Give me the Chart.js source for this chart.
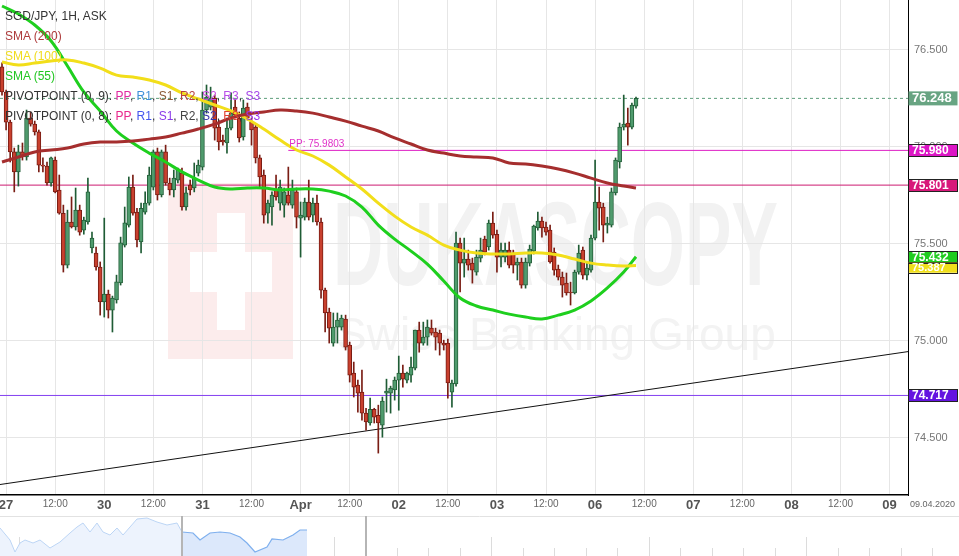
<!DOCTYPE html>
<html>
<head>
<meta charset="utf-8">
<script src="https://cdn.jsdelivr.net/npm/chart.js@4.4.1/dist/chart.umd.min.js"></script>
<style>
body{margin:0;background:#fff;width:959px;height:556px;overflow:hidden;position:relative;font-family:"Liberation Sans",Arial,sans-serif;}
#main{position:absolute;left:0;top:0;}
#nav{position:absolute;left:0;top:516px;}
#legend{position:absolute;left:5px;top:6px;font-size:12px;line-height:20px;color:#333;white-space:nowrap;}
</style>
</head>
<body>
<canvas id="main" width="959" height="516"></canvas>
<canvas id="nav" width="959" height="40"></canvas>
<div id="legend">
<div>SGD/JPY, 1H, ASK</div>
<div style="color:#ad3a3a">SMA (200)</div>
<div style="color:#f0dc1e">SMA (100)</div>
<div style="color:#22c622">SMA (55)</div>
<div>PIVOTPOINT (0, 9): <span style="color:#e02aa0">PP</span>, <span style="color:#3d8fd9">R1</span>, <span style="color:#8c5a35">S1</span>, <span style="color:#b54040">R2</span>, <span style="color:#c846e0">S2</span>, <span style="color:#b84ee8">R3</span>, <span style="color:#a448e8">S3</span></div>
<div>PIVOTPOINT (0, 8): <span style="color:#e8288c">PP</span>, <span style="color:#4455ee">R1</span>, <span style="color:#8a3ae8">S1</span>, <span style="color:#444">R2</span>, <span style="color:#3333aa">S2</span>, <span style="color:#e04030">R3</span>, <span style="color:#9933ee">S3</span></div>
</div>
<script>
// SGD/JPY hourly candles, slot 0 = 26 Mar 23:00 (weekend removed)
var opens = [76.410,76.281,76.126,75.972,75.869,75.972,75.946,76.147,76.115,76.075,
75.904,75.899,75.812,75.930,75.776,75.656,75.389,75.611,75.585,75.672,
75.569,75.611,75.477,75.451,75.379,75.199,75.240,75.157,75.209,75.297,
75.492,75.595,75.791,75.662,75.508,75.662,75.708,75.791,75.972,75.750,
75.972,75.812,75.776,75.827,75.863,75.688,75.801,75.786,75.863,75.894,
76.188,76.203,76.250,76.100,76.033,76.018,76.095,76.203,76.147,76.049,
76.203,76.126,76.100,75.941,75.853,75.656,75.688,75.776,75.708,75.698,
75.750,75.698,75.766,75.631,75.636,75.714,75.646,75.708,75.611,75.260,
75.147,74.987,75.069,75.069,75.111,74.976,74.832,74.770,74.734,74.626,
74.575,74.646,74.615,74.564,74.729,74.729,74.745,74.796,74.832,74.796,
74.822,74.858,75.054,74.987,75.018,75.064,75.044,75.038,74.987,74.987,
74.734,74.776,75.502,75.399,75.420,75.399,75.353,75.425,75.523,75.482,
75.605,75.548,75.430,75.430,75.466,75.451,75.389,75.405,75.286,75.399,
75.461,75.580,75.616,75.585,75.569,75.456,75.368,75.327,75.296,75.250,
75.245,75.353,75.466,75.337,75.363,75.528,75.714,75.688,75.595,75.595,
75.761,75.920,76.100,76.121,76.100,76.208];
var highs = [76.431,76.291,76.136,75.992,76.007,76.018,76.188,76.178,76.131,76.085,
75.941,75.920,75.946,75.946,75.853,75.698,75.672,75.740,75.786,75.698,
75.636,75.837,75.559,75.482,75.405,75.631,75.260,75.229,75.337,75.533,
75.688,75.843,75.853,75.682,75.708,75.766,75.894,75.982,75.992,75.982,
76.007,75.837,75.879,75.889,75.889,75.791,75.827,75.915,75.930,76.281,
76.317,76.306,76.265,76.136,76.059,76.147,76.276,76.240,76.178,76.240,
76.224,76.147,76.115,75.956,75.879,75.724,75.766,75.853,75.827,75.786,
75.894,75.827,75.786,75.714,75.734,75.827,75.734,75.750,75.631,75.270,
75.167,75.142,75.142,75.131,75.131,74.992,74.889,74.796,74.848,74.651,
74.703,74.651,74.667,74.709,74.801,74.765,74.812,74.920,74.873,74.837,
74.915,75.054,75.095,75.095,75.106,75.106,75.064,75.054,75.002,75.007,
74.796,75.559,75.528,75.528,75.466,75.425,75.466,75.528,75.538,75.621,
75.662,75.569,75.502,75.502,75.508,75.466,75.425,75.425,75.425,75.492,
75.595,75.662,75.636,75.611,75.595,75.477,75.389,75.353,75.348,75.301,
75.363,75.492,75.482,75.405,75.543,75.930,75.791,75.708,75.636,75.786,
75.941,76.121,76.265,76.198,76.224,76.255];
var lows = [76.265,76.085,75.920,75.766,75.796,75.930,75.930,76.105,76.059,75.869,
75.869,75.801,75.796,75.761,75.651,75.353,75.374,75.580,75.569,75.543,
75.548,75.600,75.451,75.363,75.131,75.121,75.116,75.044,75.193,75.286,
75.482,75.585,75.646,75.482,75.451,75.651,75.698,75.776,75.724,75.740,
75.801,75.750,75.740,75.812,75.672,75.672,75.750,75.766,75.848,75.879,
76.172,76.188,76.033,75.982,76.007,75.966,76.085,76.147,76.023,76.033,
76.136,76.007,75.915,75.791,75.605,75.605,75.595,75.724,75.672,75.636,
75.698,75.682,75.580,75.430,75.621,75.621,75.611,75.595,75.219,75.044,
74.987,74.971,74.987,75.054,74.951,74.786,74.709,74.631,74.590,74.538,
74.564,74.575,74.420,74.502,74.631,74.626,74.693,74.641,74.760,74.781,
74.786,74.848,74.940,74.976,74.976,75.028,74.951,74.925,74.951,74.703,
74.657,74.765,75.250,75.327,75.363,75.296,75.337,75.405,75.441,75.466,
75.528,75.353,75.379,75.405,75.374,75.348,75.312,75.270,75.270,75.384,
75.446,75.569,75.533,75.543,75.399,75.337,75.312,75.224,75.234,75.183,
75.240,75.342,75.317,75.312,75.353,75.518,75.569,75.508,75.554,75.585,
75.750,75.889,76.085,76.007,76.090,76.198];
var closes = [76.281,76.126,75.972,75.869,75.972,75.946,76.147,76.115,76.075,75.904,
75.899,75.812,75.941,75.766,75.656,75.389,75.611,75.585,75.672,75.559,
75.621,75.766,75.528,75.379,75.199,75.240,75.157,75.219,75.302,75.503,
75.606,75.791,75.656,75.518,75.682,75.708,75.853,75.972,75.750,75.972,
75.812,75.776,75.837,75.879,75.688,75.761,75.776,75.837,75.904,76.188,
76.255,76.250,76.095,76.023,76.023,76.095,76.172,76.162,76.044,76.198,
76.147,76.085,75.941,75.843,75.646,75.708,75.750,75.740,75.791,75.766,
75.708,75.776,75.636,75.646,75.714,75.636,75.708,75.611,75.260,75.142,
75.064,75.069,75.106,75.116,74.966,74.822,74.760,74.729,74.626,74.580,
74.646,74.605,74.575,74.688,74.740,74.755,74.796,74.832,74.801,74.832,
74.863,75.054,74.987,75.018,75.069,75.038,75.018,74.987,74.976,74.781,
74.781,75.502,75.399,75.420,75.389,75.363,75.430,75.466,75.456,75.605,
75.543,75.430,75.466,75.466,75.389,75.389,75.405,75.286,75.405,75.471,
75.590,75.616,75.580,75.559,75.405,75.363,75.327,75.286,75.245,75.245,
75.353,75.451,75.337,75.374,75.528,75.714,75.682,75.595,75.605,75.766,
75.930,76.100,76.115,76.100,76.214,76.248];

// x axis: day starts and names
var dayNames = ["27", "30", "31", "Apr", "02", "03", "06", "07", "08", "09"];
var daySlots = [1, 25, 49, 73, 97, 121, 145, 169, 193, 217];
var dateStamp = "09.04.2020";

// moving averages read every 4 candles
var smaSlots = [0,4,8,12,16,20,24,28,32,36,40,44,48,52,56,60,64,68,72,76,80,84,88,92,96,100,104,108,112,116,120,124,128,132,136,140,144,148,152,155];
var sma200 = [75.920,75.946,75.972,75.982,75.992,76.013,76.023,76.023,76.028,76.038,76.049,76.069,76.090,76.115,76.147,76.167,76.178,76.188,76.183,76.172,
76.152,76.131,76.105,76.080,76.044,76.013,75.982,75.966,75.951,75.946,75.941,75.915,75.910,75.899,75.884,75.863,75.837,75.812,75.796,75.786];
var sma100 = [76.435,76.420,76.430,76.441,76.446,76.430,76.404,76.368,76.358,76.343,76.317,76.276,76.245,76.214,76.183,76.142,76.090,76.033,75.982,75.951,
75.904,75.843,75.781,75.708,75.641,75.585,75.543,75.492,75.466,75.451,75.446,75.446,75.451,75.451,75.441,75.420,75.399,75.389,75.384,75.387];
var sma55 = [76.724,76.683,76.626,76.544,76.415,76.281,76.183,76.080,76.018,75.966,75.920,75.869,75.827,75.791,75.781,75.786,75.786,75.776,75.781,75.781,
75.770,75.745,75.688,75.595,75.523,75.461,75.394,75.307,75.219,75.178,75.157,75.136,75.121,75.111,75.131,75.157,75.204,75.271,75.353,75.432];

// levels
var lastPrice = 76.248;
var pivotPP = 75.980;      // PP: 75.9803
var pivotPPStart = 70;
var pivotLevel = 75.801;
var supportLevel = 74.717;
var trendFrom = 74.258, trendTo = 74.943;

// navigator strip (height of the history line)
var navSlots = [0,10,15,20,25,33,40,50,60,70,77,83,90,97,103,110,117,123,130,137,147,157,167,177,182,193,200,210,220,230,240,247,255,267,272,283,293,300,307];
var navLevels = [28,16,4,13,16,13,16,8,14,23,29,33,24,33,24,21,28,21,29,37,38,34,31,33,24,23,16,23,24,23,19,13,4,9,17,16,21,26,26];
var navWindowStart = 182;

var xMin = -0.49, xMax = 221.5;

var wicks = [], bodies = [], wickColors = [], bodyColors = [], bodyBorders = [];
for (var i = 0; i < closes.length; i++) {
	var up = closes[i] >= opens[i];
	wicks.push({x: i, y: [lows[i], highs[i]]});
	bodies.push({x: i, y: [opens[i], closes[i]]});
	wickColors.push(up ? "#1f5c35" : "#7a1d14");
	bodyColors.push(up ? "#4f9b6d" : "#c8402e");
	bodyBorders.push(up ? "#24603a" : "#7a1d14");
}

function pts(xs, ys) {
	var out = [];
	for (var k = 0; k < xs.length; k++) out.push({x: xs[k], y: ys[k]});
	return out;
}

function levelLine(v, color, from, dash) {
	return {
		type: "line",
		data: [{x: from, y: v}, {x: xMax, y: v}],
		borderColor: color,
		borderWidth: 1,
		borderDash: dash || [],
		pointRadius: 0,
		order: 10
	};
}

function smaLine(ys, color) {
	return {
		type: "line",
		data: pts(smaSlots, ys),
		borderColor: color,
		borderWidth: 3,
		pointRadius: 0,
		tension: 0.4,
		order: 1
	};
}

var tickLabels = {};
for (var d = 0; d < daySlots.length; d++) {
	tickLabels[daySlots[d]] = dayNames[d];
	tickLabels[daySlots[d] + 12] = "12:00";
}

function isHalfDay(ctx) {
	return ctx.tick && tickLabels[ctx.tick.value] == "12:00";
}

var watermark = {
	id: "watermark",
	beforeDraw: function(chart) {
		var c = chart.ctx;
		c.save();
		c.fillStyle = "#fcecec";
		c.fillRect(168, 183, 125, 176);
		c.fillStyle = "#ffffff";
		c.fillRect(217, 213, 28, 117);
		c.fillRect(190, 252, 82, 40);
		c.fillStyle = "#f2f2f2";
		c.font = "bold 119px 'Liberation Sans', Arial";
		c.textBaseline = "alphabetic";
		c.translate(333, 285);
		c.scale(0.585, 1);
		c.fillText("DUKASCOPY", 0, 0);
		c.restore();
		c.save();
		c.fillStyle = "#f3f3f3";
		c.font = "46px 'Liberation Sans', Arial";
		c.fillText("Swiss Banking Group", 336, 350);
		c.restore();
	}
};

var tags = {
	id: "tags",
	afterDatasetsDraw: function(chart) {
		var c = chart.ctx, xs = chart.scales.x, ys = chart.scales.y;
		c.save();
		c.fillStyle = "#e030c8";
		c.font = "10px 'Liberation Sans', Arial";
		c.textBaseline = "bottom";
		c.fillText("PP: 75.9803", xs.getPixelForValue(pivotPPStart) + 1, ys.getPixelForValue(pivotPP) - 1);
		c.restore();
	},
	afterDraw: function(chart) {
		var c = chart.ctx, ys = chart.scales.y;
		var right = chart.chartArea.right;
		var list = [
			{v: lastPrice, bg: "#68a482", h: 14, size: 13, border: null},
			{v: pivotPP, bg: "#dd16c6", h: 12, size: 12, border: "#222"},
			{v: pivotLevel, bg: "#d8197a", h: 12, size: 12, border: "#222"},
			{v: sma55[sma55.length - 1], bg: "#1fcc1f", h: 11, size: 12, border: "#222"},
			{v: sma100[sma100.length - 1], bg: "#f0df1c", h: 10, size: 11, border: "#222"},
			{v: supportLevel, bg: "#6414e0", h: 12, size: 12, border: "#222"}
		];
		var prev = -100;
		c.save();
		for (var k = 0; k < list.length; k++) {
			var t = list[k];
			var y = ys.getPixelForValue(t.v);
			if (y - prev < 11) y = prev + 11;
			prev = y;
			c.fillStyle = t.bg;
			c.fillRect(right + 0.5, y - t.h / 2, 49, t.h);
			if (t.border) {
				c.strokeStyle = t.border;
				c.lineWidth = 1;
				c.strokeRect(right + 0.5, Math.round(y - t.h / 2) + 0.5, 49, t.h);
			}
			c.fillStyle = "#fff";
			c.font = "bold " + t.size + "px 'Liberation Sans', Arial";
			c.textBaseline = "middle";
			c.fillText(t.v.toFixed(3), right + 4, y + 0.5);
		}
		c.fillStyle = "#666";
		c.font = "9px 'Liberation Sans', Arial";
		c.fillText(dateStamp, right + 2, chart.chartArea.bottom + 10);
		c.restore();
	}
};

new Chart(document.getElementById("main"), {
	type: "bar",
	data: {
		datasets: [
			{type: "line", data: [{x: xMin, y: trendFrom}, {x: xMax, y: trendTo}], borderColor: "#111", borderWidth: 1, pointRadius: 0, order: 10},
			levelLine(supportLevel, "#8440f0", xMin),
			levelLine(pivotLevel, "#cc1a70", xMin),
			levelLine(pivotPP, "#dd1fc4", pivotPPStart),
			levelLine(lastPrice, "#5f9f7c", xMin, [3, 3]),
			{data: wicks, backgroundColor: wickColors, barThickness: 1, grouped: false, order: 6},
			{data: bodies, backgroundColor: bodyColors, borderColor: bodyBorders, borderWidth: 1, borderSkipped: false, barThickness: 4, grouped: false, order: 5},
			smaLine(sma200, "#a52e2e"),
			smaLine(sma100, "#f2de1a"),
			smaLine(sma55, "#1ecf1e")
		]
	},
	options: {
		responsive: false,
		animation: false,
		layout: {padding: 0, autoPadding: false},
		plugins: {legend: {display: false}, tooltip: {enabled: false}},
		scales: {
			x: {
				type: "linear",
				min: xMin,
				max: xMax,
				offset: false,
				afterBuildTicks: function(s) {
					var t = [];
					for (var d = 0; d < daySlots.length; d++) {
						t.push({value: daySlots[d]});
						if (daySlots[d] + 12 < xMax) t.push({value: daySlots[d] + 12});
					}
					s.ticks = t;
				},
				afterFit: function(s) { s.height = 21; s.paddingLeft = 0; s.paddingRight = 0; },
				ticks: {
					autoSkip: false,
					maxRotation: 0,
					padding: 3,
					callback: function(v) { return tickLabels[v] || ""; },
					color: function(ctx) { return isHalfDay(ctx) ? "#666" : "#555"; },
					font: function(ctx) {
						return isHalfDay(ctx) ? {size: 10, family: "'Liberation Sans', Arial"} : {size: 13, weight: "bold", family: "'Liberation Sans', Arial"};
					}
				},
				grid: {color: "#e6e6e6", drawTicks: false, offset: false},
				border: {color: "#000", width: 1.5}
			},
			y: {
				position: "right",
				min: 74.204,
				max: 76.755,
				afterBuildTicks: function(s) {
					s.ticks = [74.5, 75, 75.5, 76, 76.5].map(function(v) { return {value: v}; });
				},
				afterFit: function(s) { s.width = 51; s.paddingTop = 0; s.paddingBottom = 0; },
				ticks: {
					padding: 6,
					color: "#777",
					font: {size: 11, family: "'Liberation Sans', Arial"},
					callback: function(v) { return v.toFixed(3); }
				},
				grid: {color: "#e6e6e6", drawTicks: false},
				border: {color: "#000", width: 1}
			}
		}
	},
	plugins: [watermark, tags]
});

// navigator strip under the axis
var navOld = [], navWin = [];
for (var n = 0; n < navSlots.length; n++) {
	if (navSlots[n] <= navWindowStart) navOld.push({x: navSlots[n], y: navLevels[n]});
	if (navSlots[n] >= navWindowStart) navWin.push({x: navSlots[n], y: navLevels[n]});
}

var navDeco = {
	id: "navDeco",
	beforeDatasetsDraw: function(chart) {
		var c = chart.ctx, xs = chart.scales.x;
		c.save();
		c.strokeStyle = "#dcdcdc";
		c.lineWidth = 1;
		for (var k = 0; k < 31; k++) {
			var x = Math.round(xs.getPixelForValue(18.5 + 31.5 * k)) + 0.5;
			c.beginPath();
			c.moveTo(x, k % 5 == 0 ? 21 : 32);
			c.lineTo(x, 40);
			c.stroke();
		}
		c.restore();
	},
	afterDraw: function(chart) {
		var c = chart.ctx, xs = chart.scales.x;
		c.save();
		c.strokeStyle = "#e2e2e2";
		c.beginPath();
		c.moveTo(0, 0.5);
		c.lineTo(959, 0.5);
		c.stroke();
		c.strokeStyle = "#b5b5b5";
		c.lineWidth = 2;
		[navWindowStart, 366].forEach(function(v) {
			var x = xs.getPixelForValue(v);
			c.beginPath();
			c.moveTo(x, 0);
			c.lineTo(x, 40);
			c.stroke();
		});
		c.restore();
	}
};

new Chart(document.getElementById("nav"), {
	type: "line",
	data: {
		datasets: [
			{data: navOld, borderColor: "#bcd5f5", backgroundColor: "#edf3fd", borderWidth: 1, fill: "start", pointRadius: 0},
			{data: navWin, borderColor: "#7fb0ee", backgroundColor: "#dce8fb", borderWidth: 1.2, fill: "start", pointRadius: 0}
		]
	},
	options: {
		responsive: false,
		animation: false,
		layout: {padding: 0, autoPadding: false},
		plugins: {legend: {display: false}, tooltip: {enabled: false}},
		scales: {
			x: {type: "linear", min: 0, max: 959, display: false},
			y: {min: 0, max: 40, display: false}
		}
	},
	plugins: [navDeco]
});
</script>
</body>
</html>
